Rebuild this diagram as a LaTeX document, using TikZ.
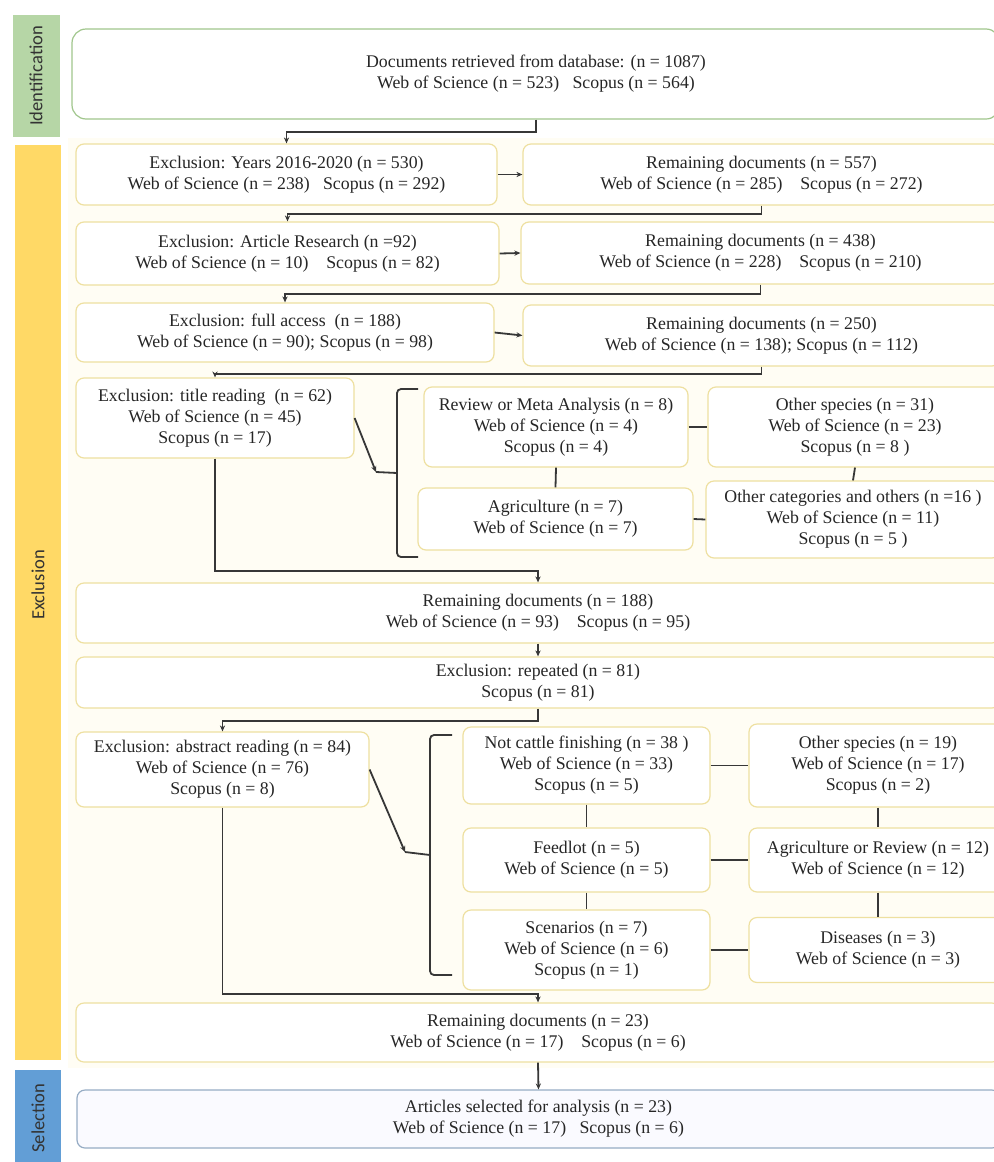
\documentclass[tikz,border=0pt]{standalone}
\usepackage{fontspec}
\setmainfont{Liberation Serif}
\newfontfamily\barfont{Carlito}
\usetikzlibrary{arrows.meta}

\definecolor{idgreen}{RGB}{182,214,166}
\definecolor{exyellow}{RGB}{255,217,102}
\definecolor{selblue}{RGB}{98,158,214}
\definecolor{idborder}{RGB}{160,198,140}
\definecolor{exborder}{RGB}{238,224,160}
\definecolor{selborder}{RGB}{150,172,196}
\definecolor{txtgray}{RGB}{38,38,38}
\definecolor{wiregray}{RGB}{55,55,55}
\definecolor{panelcream}{RGB}{255,253,244}

\begin{document}
\begin{tikzpicture}[x=0.5pt, y=-0.5pt,
  every node/.style={font=\fontsize{8.9}{10.5}\selectfont, text=txtgray, align=center, inner sep=0pt},
  boxsize/.style 2 args={minimum width=#1*0.5pt, minimum height=#2*0.5pt},
  exbox/.style={draw=exborder, fill=white, rounded corners=4pt, line width=0.6pt},
  bartext/.style={font=\barfont\fontsize{9.3}{10}\selectfont, text=black!80, rotate=90},
  wire/.style={draw=wiregray, line width=0.9pt},
  arr/.style={wire, -{Stealth[length=3pt,width=2.6pt]}}]
  \useasboundingbox (0,0) rectangle (993,1162);
  % stage bars on the left
  \fill[idgreen] (13,15) rectangle (60,137);
  \fill[exyellow] (15,145) rectangle (61,1060);
  \fill[selblue] (15,1070) rectangle (61,1170);
  \node[bartext] (idlab) at (36,76) {Identification};
  \node[bartext] (exlab) at (38,585) {Exclusion};
  \node[bartext] (sellab) at (38,1118) {Selection};
  \fill[panelcream] (68,138) rectangle (1000,1068);

  % identification
  \node[draw=idborder, fill=white, rounded corners=7pt, line width=0.6pt, boxsize={928}{90}] (found) at (536,74)
    {Documents retrieved from database: (n = 1087)\\Web of Science (n = 523)\enspace\ Scopus (n = 564)};

  % exclusion by year, type, access
  \node[exbox, boxsize={421}{61}] (exyear) at (286.5,174.5)
    {Exclusion: Years 2016-2020 (n = 530)\\Web of Science (n = 238)\enspace\ Scopus (n = 292)};
  \node[exbox, boxsize={477}{61}] (remyear) at (761.5,174.5)
    {Remaining documents (n = 557)\\Web of Science (n = 285)\quad Scopus (n = 272)};
  \node[exbox, boxsize={423}{63}] (exart) at (287.5,253.5)
    {Exclusion: Article Research (n =92)\\Web of Science (n = 10)\quad Scopus (n = 82)};
  \node[exbox, boxsize={479}{62}] (remart) at (760.5,253)
    {Remaining documents (n = 438)\\Web of Science (n = 228)\quad Scopus (n = 210)};
  \node[exbox, boxsize={418}{59}] (exacc) at (285,332.5)
    {Exclusion: full access\ \ (n = 188)\\Web of Science (n = 90); Scopus (n = 98)};
  \node[exbox, boxsize={477}{61}] (remacc) at (761.5,335.5)
    {Remaining documents (n = 250)\\Web of Science (n = 138); Scopus (n = 112)};
  \draw[arr] (found.south) -- ++(0,12) -| (exyear.north);
  \draw[arr] (exyear.east) -- (remyear.west);
  \draw[arr] (remyear.south) -- ++(0,8) -| (exart.north);
  \draw[arr] (exart.east) -- (remart.west);
  \draw[arr] (remart.south) -- ++(0,9) -| (exacc.north);
  \draw[arr] (exacc.east) -- (remacc.west);

  % title reading
  \node[exbox, boxsize={278}{80}] (extitle) at (215,418)
    {Exclusion: title reading\ \ (n = 62)\\Web of Science (n = 45)\\Scopus (n = 17)};
  \node[exbox, boxsize={264}{80}] (tmeta) at (556,427)
    {Review or Meta Analysis (n = 8)\\Web of Science (n = 4)\\Scopus (n = 4)};
  \node[exbox, boxsize={294}{80}] (tspecies) at (855,427)
    {Other species (n = 31)\\Web of Science (n = 23)\\Scopus (n = 8 )};
  \node[exbox, boxsize={275}{62}] (tagri) at (555.5,519)
    {Agriculture (n = 7)\\Web of Science (n = 7)};
  \node[exbox, boxsize={294}{77}] (tother) at (853,519.5)
    {Other categories and others (n =16 )\\Web of Science (n = 11)\\Scopus (n = 5 )};
  \draw[arr] (remacc.south) -- ++(0,7) -| (extitle.north);
  \coordinate (tip1) at (376,472);
  \draw[arr] (extitle.east) -- (tip1);
  \draw[wire] (tip1) -- (397,473);
  \draw[wire, rounded corners=2pt] (418,389) -- (397,389) -- (397,557) -- (418,557);
  \draw[wire] (tmeta.east) -- (tspecies.west);
  \draw[wire] (tagri.east) -- (tother.west);
  \draw[wire] (tmeta.south) -- (tagri.north);
  \draw[wire] (tspecies.south) -- (tother.north);

  \node[exbox, boxsize={924}{60}] (remtitle) at (538,613)
    {Remaining documents (n = 188)\\Web of Science (n = 93)\quad Scopus (n = 95)};
  \draw[arr] (extitle.south) -- ++(0,112) -| (remtitle.north);
  \node[exbox, boxsize={924}{51}] (exrep) at (538,682.5)
    {Exclusion: repeated (n = 81)\\Scopus (n = 81)};
  \draw[arr] (remtitle.south) -- (exrep.north);

  % abstract reading
  \node[exbox, boxsize={293}{75}] (exabs) at (222.5,769.5)
    {Exclusion: abstract reading (n = 84)\\Web of Science (n = 76)\\Scopus (n = 8)};
  \node[exbox, boxsize={247}{77}] (acattle) at (586.5,765.5)
    {Not cattle finishing (n = 38 )\\Web of Science (n = 33)\\Scopus (n = 5)};
  \node[exbox, boxsize={258}{83}] (aspecies) at (878,765.5)
    {Other species (n = 19)\\Web of Science (n = 17)\\Scopus (n = 2)};
  \node[exbox, boxsize={247}{64}] (afeed) at (586.5,860)
    {Feedlot (n = 5)\\Web of Science (n = 5)};
  \node[exbox, boxsize={258}{64}] (areview) at (878,860)
    {Agriculture or Review (n = 12)\\Web of Science (n = 12)};
  \node[exbox, boxsize={247}{80}] (ascen) at (586.5,950)
    {Scenarios (n = 7)\\Web of Science (n = 6)\\Scopus (n = 1)};
  \node[exbox, boxsize={258}{65}] (adis) at (878,950)
    {Diseases (n = 3)\\Web of Science (n = 3)};
  \draw[arr] (exrep.south) -- ++(0,12) -| (exabs.north);
  \coordinate (tip2) at (405,852);
  \draw[arr] (exabs.east) -- (tip2);
  \draw[wire] (tip2) -- (430,855);
  \draw[wire, rounded corners=2pt] (452,735) -- (430,735) -- (430,975) -- (452,975);
  \draw[wire] (acattle.east) -- (aspecies.west);
  \draw[wire] (afeed.east) -- (areview.west);
  \draw[wire] (ascen.east) -- (adis.west);
  \draw[wire] (acattle.south) -- (afeed.north);
  \draw[wire] (afeed.south) -- (ascen.north);
  \draw[wire] (aspecies.south) -- (areview.north);
  \draw[wire] (areview.south) -- (adis.north);

  \node[exbox, boxsize={924}{59}] (remabs) at (538,1032.5)
    {Remaining documents (n = 23)\\Web of Science (n = 17)\quad Scopus (n = 6)};
  \draw[arr] (exabs.south) -- ++(0,186) -| (remabs.north);

  % selection
  \node[draw=selborder, fill=blue!2, rounded corners=4pt, line width=0.6pt, boxsize={923}{58}] (chosen) at (538.5,1119)
    {Articles selected for analysis (n = 23)\\Web of Science (n = 17)\enspace\ Scopus (n = 6)};
  \draw[arr] (remabs.south) -- (chosen.north);
\end{tikzpicture}
\end{document}
